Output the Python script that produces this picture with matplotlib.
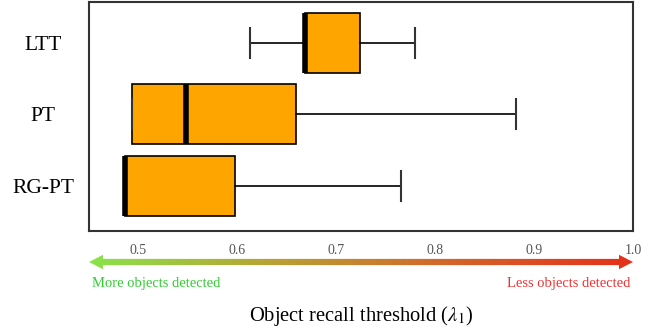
import matplotlib
matplotlib.use("Agg")
import matplotlib.pyplot as plt
from matplotlib.patches import Polygon
from matplotlib.colors import LinearSegmentedColormap
import numpy as np

plt.rcParams['font.family'] = ['Liberation Serif', 'DejaVu Serif']
plt.rcParams['mathtext.fontset'] = 'stix'

# ---------------- data ----------------
methods = ["LTT", "PT", "RG-PT"]
whisker_lo = [0.613, 0.493, 0.486]
q1 = [0.668, 0.493, 0.486]
median = [0.668, 0.548, 0.486]
q3 = [0.724, 0.659, 0.598]
whisker_hi = [0.780, 0.882, 0.765]
xticks = [0.5, 0.6, 0.7, 0.8, 0.9, 1.0]
xlim = (0.45, 1.0)

fig = plt.figure(figsize=(6.5, 3.32), dpi=100)
ax = fig.add_axes([89 / 650, 1 - 231 / 332, 544 / 650, 229 / 332])

stats = []
for i, name in enumerate(methods):
    stats.append(dict(label=name, whislo=whisker_lo[i], q1=q1[i], med=median[i],
                      q3=q3[i], whishi=whisker_hi[i], fliers=[]))

positions = np.arange(1, len(methods) + 1)
ax.bxp(stats, positions=positions, vert=False, widths=0.84, patch_artist=True,
       showfliers=False, capwidths=0.42,
       boxprops=dict(facecolor="orange", edgecolor="black", linewidth=1.2),
       medianprops=dict(color="black", linewidth=4, solid_capstyle="butt"),
       whiskerprops=dict(color="black", linewidth=1.2),
       capprops=dict(color="#333333", linewidth=1.5))

ax.set_xlim(*xlim)
ax.set_ylim(3.63, 0.43)
ax.set_yticks(positions)
ax.set_yticklabels(methods, fontsize=15.5)
for lab in ax.get_yticklabels():
    lab.set_horizontalalignment("center")
ax.tick_params(axis="y", length=0, pad=33)
ax.set_xticks(xticks)
ax.set_xticklabels([f"{t:.1f}" for t in xticks], fontsize=10, color="#555555")
ax.tick_params(axis="x", length=0, pad=9)
for sp in ax.spines.values():
    sp.set_color("#333333")
    sp.set_linewidth(1.5)

# ---------------- gradient arrow below the axes ----------------
ax2 = fig.add_axes([89 / 650, 1 - 286 / 332, 544 / 650, 48 / 332])
ax2.set_xlim(*xlim)
ax2.set_ylim(-1, 1)
ax2.axis("off")

span = xlim[1] - xlim[0]
head_len = span * 14 / 544
shaft, head = 0.13, 0.3
arrow_pts = [(xlim[0], 0), (xlim[0] + head_len, head), (xlim[0] + head_len, shaft),
             (xlim[1] - head_len, shaft), (xlim[1] - head_len, head), (xlim[1], 0),
             (xlim[1] - head_len, -head), (xlim[1] - head_len, -shaft),
             (xlim[0] + head_len, -shaft), (xlim[0] + head_len, -head)]
arrow = Polygon(arrow_pts, closed=True, facecolor="none", edgecolor="none")
ax2.add_patch(arrow)
cmap = LinearSegmentedColormap.from_list("gr", ["#8ae34a", "#b8a235", "#d3652a", "#e5301a"])
grad = np.linspace(0, 1, 256).reshape(1, -1)
im = ax2.imshow(grad, extent=[xlim[0], xlim[1], -1, 1], aspect="auto", cmap=cmap)
im.set_clip_path(arrow)

fig.text(92 / 650, 1 - 283 / 332, "More objects detected", color="#33cc33",
         fontsize=10.5, ha="left", va="center")
fig.text(630 / 650, 1 - 283 / 332, "Less objects detected", color="#ee3333",
         fontsize=10.5, ha="right", va="center")
fig.text(361 / 650, 1 - 316 / 332, r"Object recall threshold ($\lambda_1$)",
         fontsize=14.8, ha="center", va="center")

fig.savefig("out.png", dpi=100)
